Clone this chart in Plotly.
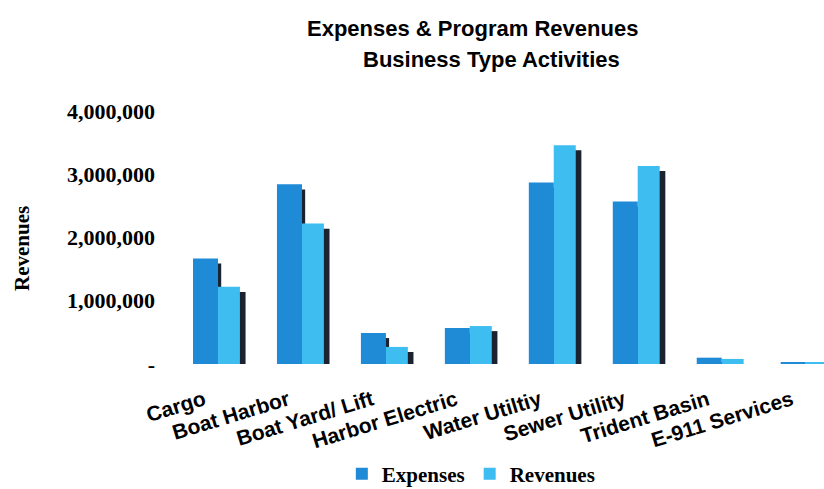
import plotly.graph_objects as go

# Business-type activities: expenses vs. program revenues
categories = ["Cargo", "Boat Harbor", "Boat Yard/ Lift", "Harbor Electric",
              "Water Utiltiy", "Sewer Utility", "Trident Basin", "E-911 Services"]
expenses = [1670000, 2840000, 490000, 570000, 2870000, 2570000, 100000, 20000]
revenues = [1220000, 2220000, 270000, 600000, 3460000, 3130000, 80000, 30000]

tick_vals = [0, 1000000, 2000000, 3000000, 4000000]
tick_text = ["-", "1,000,000", "2,000,000", "3,000,000", "4,000,000"]

EXP_COLOR = "#1f8bd6"
REV_COLOR = "#3dbdf0"
SHADOW = "#1b2330"

# plot area geometry (pixels) used to place the title annotations
FIG_H = 489
TOP, BOTTOM, LEFT, WIDTH = 100, 377, 170, 654
HEIGHT = BOTTOM - TOP

y_range = [-205500, 4174000]
# shadow axis shifted so the dark side faces sit a few pixels lower
shift = 80000
shadow_range = [y_range[0] + shift, y_range[1] + shift]


def side_face(values):
    # side face rises from the common baseline and ends just below the front top
    return [max(v - shift, 0) for v in values]


def py(pixel_y):
    return (BOTTOM - pixel_y) / HEIGHT


def px(pixel_x):
    return (pixel_x - LEFT) / WIDTH


fig = go.Figure()

# dark side faces on the bottom axis layer, coloured fronts on the overlaying axis
fig.add_trace(go.Bar(x=categories, y=side_face(expenses), base=shift, yaxis="y",
                     offset=-0.16, width=0.27,
                     marker=dict(color=SHADOW, line=dict(width=0)),
                     showlegend=False, hoverinfo="skip"))
fig.add_trace(go.Bar(x=categories, y=side_face(revenues), base=shift, yaxis="y",
                     offset=0.11, width=0.29,
                     marker=dict(color=SHADOW, line=dict(width=0)),
                     showlegend=False, hoverinfo="skip"))
fig.add_trace(go.Bar(x=categories, y=expenses, yaxis="y2", name="Expenses",
                     offset=-0.226, width=0.298,
                     marker=dict(color=EXP_COLOR, line=dict(width=0))))
fig.add_trace(go.Bar(x=categories, y=revenues, yaxis="y2", name="Revenues",
                     offset=0.071, width=0.262,
                     marker=dict(color=REV_COLOR, line=dict(width=0))))

fig.update_layout(
    width=824, height=FIG_H,
    margin=dict(l=LEFT, r=0, t=TOP, b=FIG_H - BOTTOM, autoexpand=False),
    paper_bgcolor="white", plot_bgcolor="white",
    barmode="overlay",
    showlegend=True,
    legend=dict(orientation="h", x=0.572, xanchor="center", xref="container",
                y=1 - 474 / FIG_H, yanchor="middle", yref="container",
                font=dict(family="Liberation Serif", size=21, color="black", weight="bold"),
                itemwidth=30, tracegroupgap=0),
    xaxis=dict(range=[-0.5, 7.29], showgrid=False, showline=False, zeroline=False,
               ticks="", tickangle=-17, automargin=False,
               ticklabelshift=-8, ticklabelstandoff=6,
               tickfont=dict(family="Liberation Sans", size=21, color="black", weight="bold")),
    yaxis=dict(range=shadow_range, visible=False),
    yaxis2=dict(range=y_range, overlaying="y", side="left", automargin=False,
                tickvals=tick_vals, ticktext=tick_text,
                showgrid=False, showline=False, zeroline=False, ticks="",
                ticklabelstandoff=14,
                tickfont=dict(family="Liberation Serif", size=22, color="black", weight="bold")),
    annotations=[
        dict(text="Expenses & Program Revenues", xref="paper", yref="paper",
             x=px(472), y=py(28), xanchor="center", yanchor="middle",
             showarrow=False,
             font=dict(family="Liberation Sans", size=22, color="black", weight="bold")),
        dict(text="Business Type Activities", xref="paper", yref="paper",
             x=px(491), y=py(60), xanchor="center", yanchor="middle",
             showarrow=False,
             font=dict(family="Liberation Sans", size=22, color="black", weight="bold")),
        dict(text="Revenues", xref="paper", yref="paper", textangle=-90,
             x=px(22), y=py(249), xanchor="center", yanchor="middle",
             showarrow=False,
             font=dict(family="Liberation Serif", size=21, color="black", weight="bold")),
    ],
)

fig.write_html("out.html")
